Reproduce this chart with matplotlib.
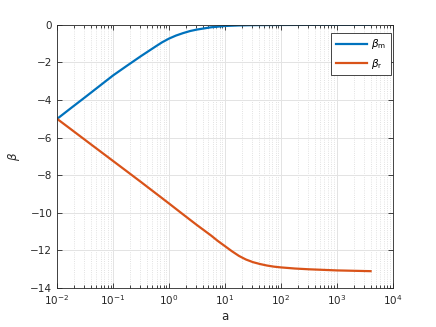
import matplotlib
matplotlib.use("Agg")
import matplotlib.pyplot as plt
import numpy as np

# values
a_m = [0.01, 0.0178, 0.0316, 0.0562, 0.1, 0.178, 0.316, 0.562, 0.75, 1.0, 1.33, 1.78, 2.37,
       3.16, 5.62, 10.0, 17.8, 31.6, 100.0, 316.0, 1000.0, 4000.0]
beta_m = [-5.0, -4.42, -3.85, -3.27, -2.69, -2.17, -1.66, -1.17, -0.93, -0.73, -0.57, -0.44,
          -0.33, -0.25, -0.13, -0.06, -0.03, -0.015, -0.006, -0.002, 0.0, 0.0]
a_r = [0.01, 0.0178, 0.0316, 0.0562, 0.1, 0.178, 0.316, 0.562, 1.0, 1.78, 3.16, 5.62, 7.5,
       10.0, 13.3, 17.8, 23.7, 31.6, 42.2, 56.2, 75.0, 100.0, 178.0, 316.0, 1000.0, 4000.0]
beta_r = [-5.0, -5.56, -6.12, -6.68, -7.24, -7.8, -8.36, -8.93, -9.5, -10.08, -10.65, -11.2,
          -11.5, -11.77, -12.04, -12.29, -12.48, -12.62, -12.72, -12.8, -12.86, -12.9, -12.96,
          -13.0, -13.06, -13.1]

labels = [r'$\beta_{\mathrm{m}}$', r'$\beta_{\mathrm{r}}$']
colors = ['#0072BD', '#D95319']
dark = '#262626'

fig = plt.figure(figsize=(4.36, 3.27), dpi=100)
ax = fig.add_axes([0.131, 0.119, 0.770, 0.805])

ax.plot(a_m, beta_m, color=colors[0], lw=1.6, label=labels[0])
ax.plot(a_r, beta_r, color=colors[1], lw=1.6, label=labels[1])

ax.set_xscale('log')
ax.set_xlim(1e-2, 1e4)
ax.set_ylim(-14, 0)
ax.set_yticks(np.arange(-14, 1, 2))
ax.set_xticks([1e-2, 1e-1, 1e0, 1e1, 1e2, 1e3, 1e4])

ax.grid(which='major', color='#e3e3e3', lw=0.7, ls='-')
ax.grid(which='minor', axis='x', color='#d8d8d8', lw=0.6, ls=':')
ax.set_axisbelow(True)

ax.tick_params(which='both', direction='in', top=True, right=True, color=dark,
               labelsize=7.5, labelcolor=dark, width=0.6)
ax.tick_params(which='major', length=3.5)
ax.tick_params(which='minor', length=2)
for s in ax.spines.values():
    s.set_color(dark)
    s.set_linewidth(0.6)

ax.set_xlabel('a', fontsize=8.5, color=dark, labelpad=2)
ax.set_ylabel(r'$\beta$', fontsize=8.5, color=dark, labelpad=6)

leg = ax.legend(loc='upper right', bbox_to_anchor=(0.995, 0.97), borderaxespad=0,
                fontsize=7.5, fancybox=False, edgecolor=dark, framealpha=1,
                handlelength=3.0, handletextpad=0.4, labelspacing=0.5, borderpad=0.45)
leg.get_frame().set_linewidth(0.6)

fig.savefig('out.png', dpi=100)
